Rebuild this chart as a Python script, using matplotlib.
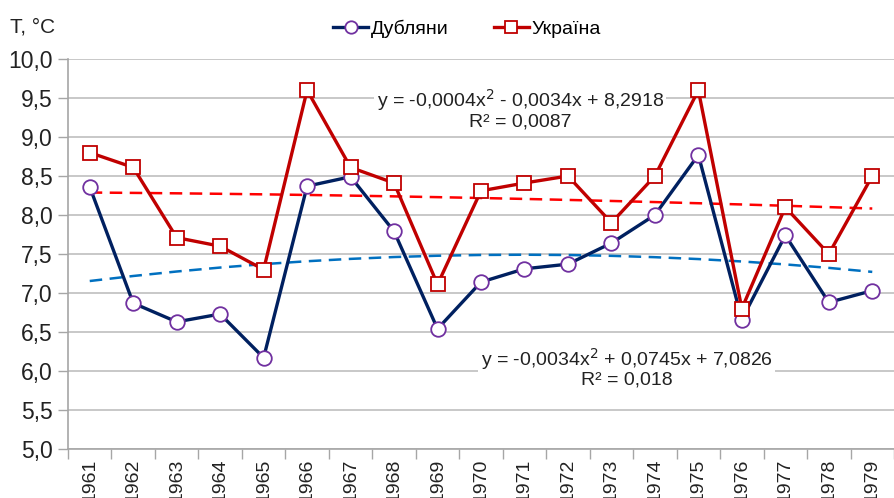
import numpy as np
import matplotlib
matplotlib.use("Agg")
import matplotlib.pyplot as plt
from matplotlib import font_manager

plt.rcParams["font.family"] = ["Liberation Sans", "DejaVu Sans"]

years = [str(y) for y in range(1961, 1980)]
dublyany = [8.36, 6.87, 6.63, 6.73, 6.17, 8.37, 8.49, 7.79, 6.54, 7.14,
            7.31, 7.37, 7.64, 8.00, 8.77, 6.66, 7.74, 6.88, 7.03]
ukraine = [8.80, 8.61, 7.71, 7.60, 7.30, 9.60, 8.61, 8.41, 7.11, 8.31,
           8.41, 8.50, 7.90, 8.50, 9.60, 6.80, 8.10, 7.50, 8.50]

# trend coefficients as printed on the chart (a*x^2 + b*x + c, x = 1..19)
trend_dub = [-0.0034, 0.0745, 7.0826]
trend_ukr = [-0.0004, -0.0034, 8.2918]
eq_dub = "y = -0,0034x$^2$ + 0,0745x + 7,0826\nR² = 0,018"
eq_ukr = "y = -0,0004x$^2$ - 0,0034x + 8,2918\nR² = 0,0087"

yticks = np.arange(5.0, 10.01, 0.5)

names = {f.name for f in font_manager.fontManager.ttflist}
narrow = "Liberation Sans Narrow" if "Liberation Sans Narrow" in names else "Liberation Sans"
xfs = 17 if narrow == "Liberation Sans Narrow" else 14

fig = plt.figure(figsize=(8.94, 4.98), dpi=100)
ax = fig.add_axes([68 / 894, 1 - 449 / 498, 1 - 68 / 894, (449 - 59) / 498])

x = np.arange(len(years))
xn = x + 1
ax.plot(x, np.polyval(trend_ukr, xn), color="#FF0000", lw=1.8, ls=(0, (5, 3)), zorder=2)
ax.plot(x, np.polyval(trend_dub, xn), color="#0070C0", lw=1.8, ls=(0, (5, 3)), zorder=2)

ax.plot(x, dublyany, color="#002060", lw=2.4, marker="o", ms=10.5,
        mfc="white", mec="#7030A0", mew=1.3, label="Дубляни", zorder=3)
ax.plot(x, ukraine, color="#C00000", lw=2.4, marker="s", ms=10,
        mfc="white", mec="#C00000", mew=1.3, label="Україна", zorder=4)

ax.set_ylim(5.0, 10.0)
ax.set_xlim(-0.5, -0.5 + 826 / 43.9)
ax.set_yticks(yticks)
ax.set_yticklabels([f"{v:.1f}".replace(".", ",") for v in yticks], fontsize=16.5, color="#222222")
ax.grid(axis="y", color="#BFBFBF", lw=1.2)
ax.set_axisbelow(True)

ax.set_xticks(x)
ax.set_xticklabels(years, rotation=90, fontsize=xfs, color="#222222", va="top", family=narrow)
ax.set_xticks(np.arange(-0.5, len(years), 1), minor=True)
ax.tick_params(axis="x", which="major", length=0, pad=7)
ax.tick_params(axis="x", which="minor", length=7, color="#A6A6A6", width=1)
ax.tick_params(axis="y", length=7, color="#A6A6A6", width=1, pad=4)

for s in ["top", "right"]:
    ax.spines[s].set_visible(False)
for s in ["left", "bottom"]:
    ax.spines[s].set_color("#A6A6A6")
    ax.spines[s].set_linewidth(1.2)

box = dict(facecolor="white", edgecolor="none", pad=2)
ax.text(9.9, 9.36, eq_ukr, ha="center", va="center", fontsize=14,
        color="#222222", linespacing=1.0, bbox=box, zorder=5)
ax.text(12.35, 6.05, eq_dub, ha="center", va="center", fontsize=14,
        color="#222222", linespacing=1.0, bbox=box, zorder=5)

fig.text(10 / 894, 1 - 27 / 498, "T, °C", fontsize=15, color="#222222", va="center")

fig.legend(loc="center", bbox_to_anchor=(467 / 894, 1 - 29 / 498), ncol=2,
           frameon=False, fontsize=14, handlelength=1.8, columnspacing=2.3,
           handletextpad=0.15, markerscale=0.85)

fig.savefig("out.png", dpi=100)
